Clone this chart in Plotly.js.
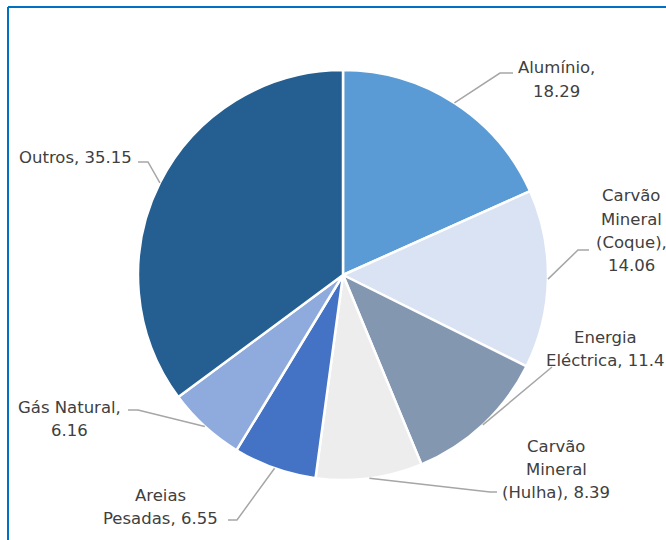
<!DOCTYPE html>
<html>
<head>
<meta charset="utf-8">
<script src="https://cdn.plot.ly/plotly-3.0.1.min.js"></script>
<style>
  html, body { margin: 0; padding: 0; background: #fff; }
  #chart { width: 666px; height: 540px; }
</style>
</head>
<body>
<div id="chart"></div>
<script>
const categories = ['Alumínio', 'Carvão Mineral (Coque)', 'Energia Eléctrica', 'Carvão Mineral (Hulha)', 'Areias Pesadas', 'Gás Natural', 'Outros'];
const shares = [18.29, 14.06, 11.4, 8.39, 6.55, 6.16, 35.15];
const sliceColors = ['#5B9BD5', '#DAE3F3', '#8497B0', '#EDEDED', '#4472C4', '#8FAADC', '#255E91'];

const W = 666, H = 540;
const cx = 343, cy = 275, R = 205;   // pie centre and radius in pixels
const lineGap = 23;

// where each label sits (pixels): text centre x, first line y, wrap width (chars), leader elbow and end
const labelSpots = [
  { x: 556, y: 68,  wrap: 10, elbow: [500, 73],  end: [513, 73] },
  { x: 631, y: 196, wrap: 9,  elbow: [578, 250], end: [589, 250] },
  { x: 605, y: 337, wrap: 15, elbow: [552, 367], end: [552, 367] },
  { x: 556, y: 446, wrap: 13, elbow: [490, 492], end: [497, 492] },
  { x: 160, y: 495, wrap: 13, elbow: [237, 520], end: [228, 520] },
  { x: 69,  y: 407, wrap: 12, elbow: [138, 410], end: [128, 410] },
  { x: 75,  y: 157, wrap: 20, elbow: [148, 162], end: [138, 162] }
];

const px = x => x / W;
const py = y => 1 - y / H;

function wrapText(text, width) {
  const words = text.split(' ');
  let lines = [], cur = '';
  words.forEach(w => {
    if (cur && (cur + ' ' + w).length > width) { lines.push(cur); cur = w; }
    else cur = cur ? cur + ' ' + w : w;
  });
  if (cur) lines.push(cur);
  return lines;
}

const total = shares.reduce((a, b) => a + b, 0);
let annotations = [];
let shapes = [];
let acc = 0;
shares.forEach((v, i) => {
  const mid = (acc + v / 2) / total * 2 * Math.PI;
  acc += v;
  const ex = cx + R * Math.sin(mid);
  const ey = cy - R * Math.cos(mid);
  const s = labelSpots[i];
  shapes.push({
    type: 'path', xref: 'paper', yref: 'paper',
    path: `M ${px(ex)},${py(ey)} L ${px(s.elbow[0])},${py(s.elbow[1])} L ${px(s.end[0])},${py(s.end[1])}`,
    line: { color: '#A6A6A6', width: 1.5 }
  });
  const lines = wrapText(`${categories[i]}, ${v}`, s.wrap);
  lines.forEach((t, k) => {
    annotations.push({
      xref: 'paper', yref: 'paper', x: px(s.x), y: py(s.y + k * lineGap),
      xanchor: 'center', yanchor: 'middle', showarrow: false, text: t,
      font: { family: 'DejaVu Sans', size: 16.5, color: '#404040' }
    });
  });
});

// frame
shapes.push({ type: 'line', xref: 'paper', yref: 'paper', x0: px(8), y0: py(7), x1: 1.01, y1: py(7), line: { color: '#0070C0', width: 2 } });
shapes.push({ type: 'line', xref: 'paper', yref: 'paper', x0: px(8), y0: py(7), x1: px(8), y1: -0.01, line: { color: '#0070C0', width: 2 } });

const trace = {
  type: 'pie',
  labels: categories,
  values: shares,
  sort: false,
  direction: 'clockwise',
  rotation: 0,
  textinfo: 'none',
  hoverinfo: 'skip',
  marker: { colors: sliceColors, line: { color: '#FFFFFF', width: 2.5 } },
  domain: { x: [px(cx - R), px(cx + R)], y: [py(cy + R), py(cy - R)] }
};

const layout = {
  width: W, height: H,
  margin: { l: 0, r: 0, t: 0, b: 0 },
  showlegend: false,
  paper_bgcolor: '#FFFFFF',
  annotations: annotations,
  shapes: shapes
};

Plotly.newPlot('chart', [trace], layout, { displayModeBar: false, staticPlot: true });
</script>
</body>
</html>
